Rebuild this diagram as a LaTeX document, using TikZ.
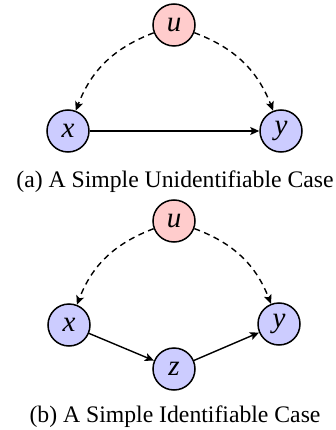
\documentclass[tikz,border=0pt]{standalone}
\usepackage{fontspec}
\setmainfont{Liberation Serif}
\usetikzlibrary{arrows.meta}
\tikzset{
  var/.style={circle, draw, line width=1.5pt, minimum size=42pt, inner sep=0pt,
    font=\fontsize{29}{30}\selectfont\itshape},
  latent/.style={var, fill=red!20},
  obs/.style={var, fill=blue!20},
  edge/.style={line width=1.4pt, -{Stealth[length=9pt,width=8pt,inset=2pt]}},
  dedge/.style={edge, dash pattern=on 6pt off 4.5pt},
  captext/.style={font=\fontsize{23.7}{28}\selectfont}
}
\begin{document}
\begin{tikzpicture}[x=1pt,y=-1pt]
\useasboundingbox (0,0) rectangle (336,430);
% (a)
\node[latent] (ua) at (174,25) {u};
\node[obs] (xa) at (68,131) {x};
\node[obs] (ya) at (281,131) {y};
\draw[dedge] (ua) to[bend right=24] (xa);
\draw[dedge] (ua) to[bend left=24] (ya);
\draw[edge] (xa) -- (ya);
\node[captext] (capa) at (175,182) {(a) A Simple Unidentifiable Case};
% (b)
\node[latent] (ub) at (174,221) {u};
\node[obs] (xb) at (69,325) {x};
\node[obs] (yb) at (279,324) {y};
\node[obs] (zb) at (174,369) {z};
\draw[dedge] (ub) to[bend right=24] (xb);
\draw[dedge] (ub) to[bend left=24] (yb);
\draw[edge] (xb) -- (zb);
\draw[edge] (zb) -- (yb);
\node[captext] (capb) at (175,417) {(b) A Simple Identifiable Case};
\end{tikzpicture}
\end{document}
